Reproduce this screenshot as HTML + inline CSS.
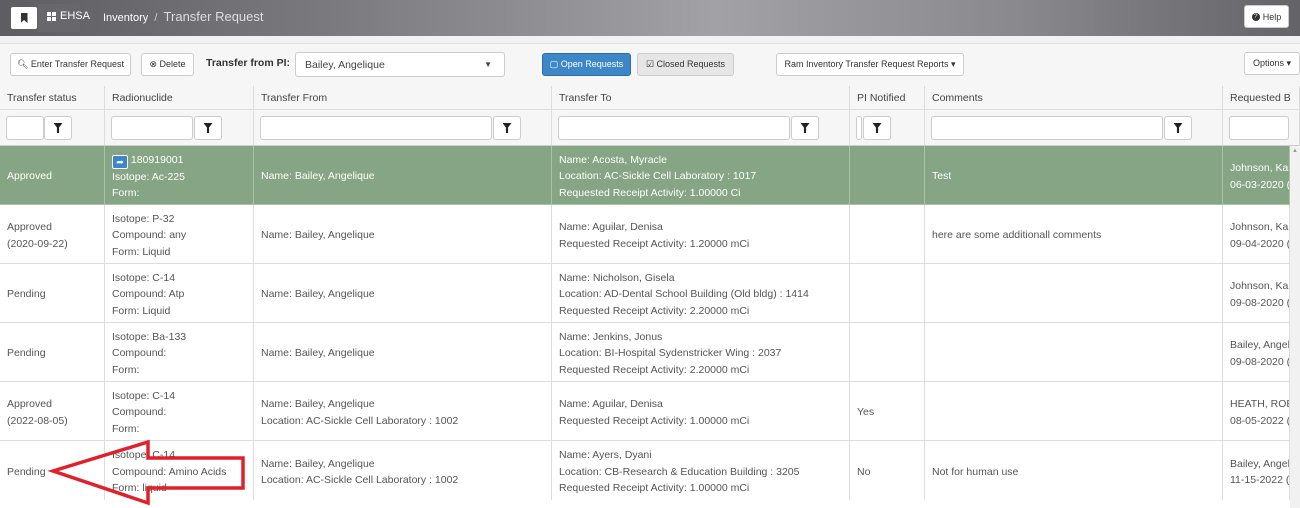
<!DOCTYPE html>
<html><head><meta charset="utf-8"><style>
*{box-sizing:border-box;margin:0;padding:0}
body{width:1300px;height:508px;overflow:hidden;background:#fff;font-family:"Liberation Sans",Arial,sans-serif;font-size:11px;color:#555;position:relative}
.abs{position:absolute}
.top{left:0;top:0;width:1300px;height:36px;background:linear-gradient(90deg,#5e5e62 0%,#7a7a7e 25%,#a2a2a6 55%,#8a8a8e 78%,#646468 100%)}
.strip{left:0;top:36px;width:1300px;height:8px;background:#f2f2f2;border-bottom:1px solid #e2e2e2}
.tb{left:0;top:44px;width:1300px;height:42px;background:#f6f6f6}
.btn{position:absolute;background:#fff;border:1px solid #ccc;border-radius:3px;font-size:9px;color:#333;display:flex;align-items:center;justify-content:center;white-space:nowrap}
.hd{position:absolute;top:86px;height:24px;background:#f6f6f6;border-bottom:1px solid #ddd;border-right:1px solid #ddd;padding:6px 7px;font-size:10.5px;color:#444;white-space:nowrap;overflow:hidden}
.fl{position:absolute;top:110px;height:36px;background:#f6f6f6;border-right:1px solid #ddd;border-bottom:1px solid #ccc}
.inp{position:absolute;top:6px;height:24px;background:#fff;border:1px solid #ccc;border-radius:3px}
.fb{position:absolute;top:6px;height:24px;width:28px;background:#fff;border:1px solid #ccc;border-radius:3px;display:flex;align-items:center;justify-content:center}
.fb::after{content:"";width:9px;height:10px;background:#222;clip-path:polygon(0 0,100% 0,62% 45%,62% 100%,38% 100%,38% 45%)}
.c{position:absolute;border-right:1px solid #ddd;border-bottom:1px solid #ddd;padding:3px 7px 0;display:flex;flex-direction:column;justify-content:center;line-height:16.5px;font-size:10.5px;white-space:nowrap;overflow:hidden}
.g{background:#86a584;color:#fff;border-color:#aac3a8}
</style></head><body>
<div class="abs top"></div>
<div class="abs" style="left:38px;top:4px;width:42px;height:28px;background:#68686c;"></div>
<div class="abs" style="left:11px;top:7px;width:26px;height:22px;background:#fff;border-radius:2px;display:flex;align-items:center;justify-content:center"><div style="width:7px;height:10px;background:#333;clip-path:polygon(0 0,100% 0,100% 100%,50% 70%,0 100%)"></div></div>
<div class="abs" style="left:47px;top:12px;width:9px;height:9px;background:linear-gradient(#fff,#fff) 0 0/4px 4px no-repeat,linear-gradient(#fff,#fff) 5px 0/4px 4px no-repeat,linear-gradient(#fff,#fff) 0 5px/4px 4px no-repeat,linear-gradient(#fff,#fff) 5px 5px/4px 4px no-repeat"></div>
<div class="abs" style="left:60px;top:10px;color:#fff;font-size:11px">EHSA</div>
<div class="abs" style="left:103px;top:9px;color:#fff;font-size:11px">Inventory <span style="color:#ccc">&nbsp;/&nbsp;</span> <span style="color:#ddd;font-size:13px">Transfer Request</span></div>
<div class="btn" style="left:1244px;top:5px;width:45px;height:23px"><span style="display:inline-block;width:8px;height:8px;border-radius:50%;background:#333;color:#fff;font-size:6px;line-height:8px;text-align:center;margin-right:3px">?</span>Help</div>
<div class="abs strip"></div>
<div class="abs tb"></div>
<div class="btn" style="left:10px;top:53px;width:121px;height:23px">&#128269;&#xFE0E; Enter Transfer Request</div>
<div class="btn" style="left:141px;top:53px;width:53px;height:23px">&#8855; Delete</div>
<div class="abs" style="left:206px;top:57px;font-size:10.5px;font-weight:bold;color:#333">Transfer from PI:</div>
<div class="btn" style="left:295px;top:52px;width:210px;height:25px;justify-content:space-between;padding:0 12px 0 9px;font-size:10.5px;color:#444"><span>Bailey, Angelique</span><span style="font-size:8px">&#9660;</span></div>
<div class="btn" style="left:542px;top:53px;width:89px;height:23px;background:#3d87c9;border-color:#2e6da4;color:#fff">&#9634; Open Requests</div>
<div class="btn" style="left:637px;top:53px;width:97px;height:23px;background:#e6e6e6">&#9745; Closed Requests</div>
<div class="btn" style="left:776px;top:53px;width:188px;height:23px">Ram Inventory Transfer Request Reports &#9662;</div>
<div class="btn" style="left:1244px;top:52px;width:56px;height:23px">Options &#9662;</div>

<div class="hd" style="left:0;width:105px">Transfer status</div>
<div class="hd" style="left:105px;width:149px">Radionuclide</div>
<div class="hd" style="left:254px;width:298px">Transfer From</div>
<div class="hd" style="left:552px;width:298px">Transfer To</div>
<div class="hd" style="left:850px;width:75px">PI Notified</div>
<div class="hd" style="left:925px;width:298px">Comments</div>
<div class="hd" style="left:1223px;width:77px">Requested B</div>

<div class="fl" style="left:0;width:105px"><div class="inp" style="left:6px;width:38px"></div><div class="fb" style="left:44px;"></div></div>
<div class="fl" style="left:105px;width:149px"><div class="inp" style="left:6px;width:82px"></div><div class="fb" style="left:89px;"></div></div>
<div class="fl" style="left:254px;width:298px"><div class="inp" style="left:6px;width:232px"></div><div class="fb" style="left:239px;"></div></div>
<div class="fl" style="left:552px;width:298px"><div class="inp" style="left:6px;width:232px"></div><div class="fb" style="left:239px;"></div></div>
<div class="fl" style="left:850px;width:75px"><div class="inp" style="left:6px;width:6px"></div><div class="fb" style="left:13px;"></div></div>
<div class="fl" style="left:925px;width:298px"><div class="inp" style="left:6px;width:232px"></div><div class="fb" style="left:239px;"></div></div>
<div class="fl" style="left:1223px;width:77px"><div class="inp" style="left:6px;width:60px"></div></div>

<div class="c g" style="left:0;top:146px;width:105px;height:59px">Approved</div>
<div class="c g" style="left:105px;top:146px;width:149px;height:59px"><div><span style="display:inline-block;width:16px;height:14px;background:#3d87c9;border:1px solid #fff;border-radius:2px;vertical-align:-2px;text-align:center;font-size:9px;line-height:12px">&#10150;</span> 180919001</div><div>Isotope: Ac-225</div><div>Form:</div></div>
<div class="c g" style="left:254px;top:146px;width:298px;height:59px">Name: Bailey, Angelique</div>
<div class="c g" style="left:552px;top:146px;width:298px;height:59px"><div>Name: Acosta, Myracle</div><div>Location: AC-Sickle Cell Laboratory : 1017</div><div>Requested Receipt Activity: 1.00000 Ci</div></div>
<div class="c g" style="left:850px;top:146px;width:75px;height:59px"></div>
<div class="c g" style="left:925px;top:146px;width:298px;height:59px">Test</div>
<div class="c g" style="left:1223px;top:146px;width:67px;height:59px"><div>Johnson, Kar</div><div>06-03-2020 (</div></div>

<div class="c" style="left:0;top:205px;width:105px;height:59px"><div>Approved</div><div>(2020-09-22)</div></div>
<div class="c" style="left:105px;top:205px;width:149px;height:59px"><div>Isotope: P-32</div><div>Compound: any</div><div>Form: Liquid</div></div>
<div class="c" style="left:254px;top:205px;width:298px;height:59px">Name: Bailey, Angelique</div>
<div class="c" style="left:552px;top:205px;width:298px;height:59px"><div>Name: Aguilar, Denisa</div><div>Requested Receipt Activity: 1.20000 mCi</div></div>
<div class="c" style="left:850px;top:205px;width:75px;height:59px"></div>
<div class="c" style="left:925px;top:205px;width:298px;height:59px">here are some additionall comments</div>
<div class="c" style="left:1223px;top:205px;width:67px;height:59px"><div>Johnson, Kar</div><div>09-04-2020 (</div></div>

<div class="c" style="left:0;top:264px;width:105px;height:59px">Pending</div>
<div class="c" style="left:105px;top:264px;width:149px;height:59px"><div>Isotope: C-14</div><div>Compound: Atp</div><div>Form: Liquid</div></div>
<div class="c" style="left:254px;top:264px;width:298px;height:59px">Name: Bailey, Angelique</div>
<div class="c" style="left:552px;top:264px;width:298px;height:59px"><div>Name: Nicholson, Gisela</div><div>Location: AD-Dental School Building (Old bldg) : 1414</div><div>Requested Receipt Activity: 2.20000 mCi</div></div>
<div class="c" style="left:850px;top:264px;width:75px;height:59px"></div>
<div class="c" style="left:925px;top:264px;width:298px;height:59px"></div>
<div class="c" style="left:1223px;top:264px;width:67px;height:59px"><div>Johnson, Kar</div><div>09-08-2020 (</div></div>

<div class="c" style="left:0;top:323px;width:105px;height:59px">Pending</div>
<div class="c" style="left:105px;top:323px;width:149px;height:59px"><div>Isotope: Ba-133</div><div>Compound:</div><div>Form:</div></div>
<div class="c" style="left:254px;top:323px;width:298px;height:59px">Name: Bailey, Angelique</div>
<div class="c" style="left:552px;top:323px;width:298px;height:59px"><div>Name: Jenkins, Jonus</div><div>Location: BI-Hospital Sydenstricker Wing : 2037</div><div>Requested Receipt Activity: 2.20000 mCi</div></div>
<div class="c" style="left:850px;top:323px;width:75px;height:59px"></div>
<div class="c" style="left:925px;top:323px;width:298px;height:59px"></div>
<div class="c" style="left:1223px;top:323px;width:67px;height:59px"><div>Bailey, Angel</div><div>09-08-2020 (</div></div>

<div class="c" style="left:0;top:382px;width:105px;height:59px"><div>Approved</div><div>(2022-08-05)</div></div>
<div class="c" style="left:105px;top:382px;width:149px;height:59px"><div>Isotope: C-14</div><div>Compound:</div><div>Form:</div></div>
<div class="c" style="left:254px;top:382px;width:298px;height:59px"><div>Name: Bailey, Angelique</div><div>Location: AC-Sickle Cell Laboratory : 1002</div></div>
<div class="c" style="left:552px;top:382px;width:298px;height:59px"><div>Name: Aguilar, Denisa</div><div>Requested Receipt Activity: 1.00000 mCi</div></div>
<div class="c" style="left:850px;top:382px;width:75px;height:59px">Yes</div>
<div class="c" style="left:925px;top:382px;width:298px;height:59px"></div>
<div class="c" style="left:1223px;top:382px;width:67px;height:59px"><div>HEATH, ROB</div><div>08-05-2022 (</div></div>

<div class="c" style="left:0;top:441px;width:105px;height:59px;border-bottom:none">Pending</div>
<div class="c" style="left:105px;top:441px;width:149px;height:59px;border-bottom:none"><div>Isotope: C-14</div><div>Compound: Amino Acids</div><div>Form: liquid</div></div>
<div class="c" style="left:254px;top:441px;width:298px;height:59px;border-bottom:none"><div>Name: Bailey, Angelique</div><div>Location: AC-Sickle Cell Laboratory : 1002</div></div>
<div class="c" style="left:552px;top:441px;width:298px;height:59px;border-bottom:none"><div>Name: Ayers, Dyani</div><div>Location: CB-Research &amp; Education Building : 3205</div><div>Requested Receipt Activity: 1.00000 mCi</div></div>
<div class="c" style="left:850px;top:441px;width:75px;height:59px;border-bottom:none">No</div>
<div class="c" style="left:925px;top:441px;width:298px;height:59px;border-bottom:none">Not for human use</div>
<div class="c" style="left:1223px;top:441px;width:67px;height:59px;border-bottom:none"><div>Bailey, Angel</div><div>11-15-2022 (</div></div>
<div class="abs" style="left:0;top:500px;width:1290px;height:8px;background:#fff"></div>
<div class="abs" style="left:1290px;top:146px;width:10px;height:362px;background:#f1f1f1"></div>
<div class="abs" style="left:1292px;top:148px;font-size:6px;color:#999">&#9650;</div>
<svg class="abs" style="left:0;top:0" width="1300" height="508"><polygon points="53,471 148,442 148,458 243,458 243,488 148,488 148,503" fill="none" stroke="#e0202a" stroke-width="3.5" stroke-linejoin="miter"/></svg>
</body></html>
